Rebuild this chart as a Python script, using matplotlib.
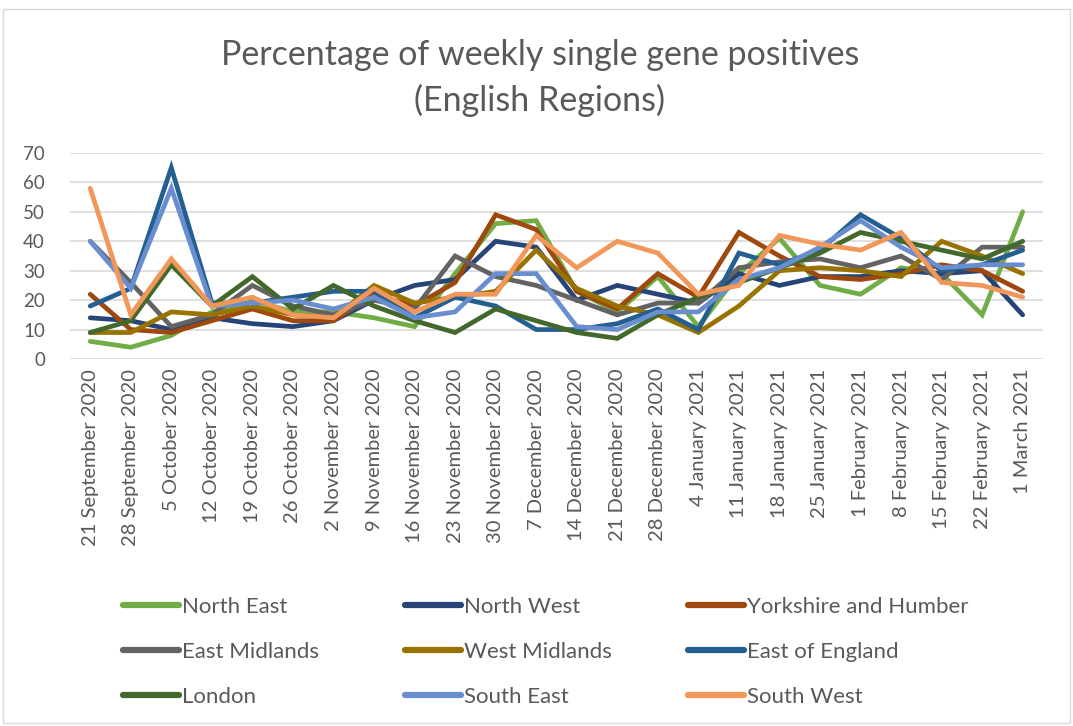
import matplotlib
matplotlib.use("Agg")
import matplotlib.pyplot as plt
from matplotlib.patches import Rectangle

weeks = ["21 September 2020", "28 September 2020", "5 October 2020", "12 October 2020",
         "19 October 2020", "26 October 2020", "2 November 2020", "9 November 2020",
         "16 November 2020", "23 November 2020", "30 November 2020", "7 December 2020",
         "14 December 2020", "21 December 2020", "28 December 2020", "4 January 2021",
         "11 January 2021", "18 January 2021", "25 January 2021", "1 February 2021",
         "8 February 2021", "15 February 2021", "22 February 2021", "1 March 2021"]

north_east = [6, 4, 8, 16, 20, 16, 16, 14, 11, 29, 46, 47, 23, 16, 28, 11, 29, 41, 25, 22, 31, 29, 15, 50]
north_west = [14, 13, 10, 14, 12, 11, 13, 20, 25, 27, 40, 38, 20, 25, 22, 19, 29, 25, 28, 28, 30, 29, 30, 15]
yorkshire = [22, 10, 9, 13, 17, 13, 13, 22, 18, 26, 49, 44, 23, 17, 29, 21, 43, 35, 28, 27, 29, 32, 30, 23]
east_midlands = [40, 26, 11, 15, 25, 18, 15, 20, 17, 35, 28, 25, 20, 15, 19, 19, 31, 33, 34, 31, 35, 27, 38, 38]
west_midlands = [9, 9, 16, 15, 18, 15, 14, 25, 19, 21, 23, 37, 24, 18, 15, 9, 18, 30, 31, 30, 28, 40, 35, 29]
east_of_england = [18, 24, 65, 19, 19, 21, 23, 23, 14, 21, 18, 10, 10, 12, 17, 10, 36, 32, 37, 49, 41, 30, 32, 37]
london = [9, 13, 32, 18, 28, 17, 25, 18, 13, 9, 17, 13, 9, 7, 15, 21, 26, 31, 36, 43, 40, 37, 34, 40]
south_east = [40, 24, 58, 18, 19, 20, 17, 21, 14, 16, 29, 29, 11, 10, 16, 16, 27, 31, 38, 47, 38, 31, 32, 32]
south_west = [58, 15, 34, 18, 21, 15, 14, 24, 16, 22, 22, 42, 31, 40, 36, 22, 25, 42, 39, 37, 43, 26, 25, 21]

series = [
    ("North East", north_east, "#70AD47"),
    ("North West", north_west, "#264478"),
    ("Yorkshire and Humber", yorkshire, "#9E480E"),
    ("East Midlands", east_midlands, "#636363"),
    ("West Midlands", west_midlands, "#997300"),
    ("East of England", east_of_england, "#255E91"),
    ("London", london, "#43682B"),
    ("South East", south_east, "#698ED0"),
    ("South West", south_west, "#F1975A"),
]

plt.rcParams['font.family'] = ['Lato', 'DejaVu Sans']
txt = "#595959"

fig = plt.figure(figsize=(10.73, 7.26), dpi=100)
fig.add_artist(Rectangle((0.003, 0.004), 0.994, 0.984, transform=fig.transFigure,
                         fill=False, edgecolor="#D9D9D9", linewidth=1))
ax = fig.add_axes([0.0652, 0.5055, 0.9068, 0.2838])

x = list(range(len(weeks)))
handles = {}
for name, vals, col in series:
    ln, = ax.plot(x, vals, color=col, linewidth=3.4, solid_joinstyle='miter',
                  solid_capstyle='round', label=name)
    handles[name] = ln

ax.set_xlim(-0.5, len(weeks) - 0.5)
ax.set_ylim(0, 70)
ax.set_yticks(range(0, 71, 10))
ax.set_xticks(x)
ax.set_xticklabels(weeks, rotation=90, fontsize=14.5, color=txt)
ax.tick_params(axis='y', labelsize=13.5, colors=txt, length=0, pad=18)
ax.tick_params(axis='x', length=0, pad=7)
ax.grid(axis='y', color="#D9D9D9", linewidth=1.2)
ax.set_axisbelow(True)
for s in ax.spines.values():
    s.set_visible(False)

fig.text(0.503, 0.924, "Percentage of weekly single gene positives", ha='center', va='center',
         fontsize=24.5, color=txt)
fig.text(0.503, 0.862, "(English Regions)", ha='center', va='center',
         fontsize=24.5, color=txt)

columns = [["North East", "East Midlands", "London"],
           ["North West", "West Midlands", "South East"],
           ["Yorkshire and Humber", "East of England", "South West"]]
col_x = [123 / 1073, 405 / 1073, 688 / 1073]
for cx, names in zip(col_x, columns):
    leg = fig.legend([handles[n] for n in names], names, ncol=1, loc='center left',
                     bbox_to_anchor=(cx, 1 - 652 / 726), frameon=False, fontsize=16,
                     handlelength=2.5, handletextpad=0.15, labelspacing=1.12,
                     labelcolor=txt, borderaxespad=0, borderpad=0)
    for l in leg.get_lines():
        l.set_linewidth(4.5)

fig.savefig("out.png", dpi=100)
